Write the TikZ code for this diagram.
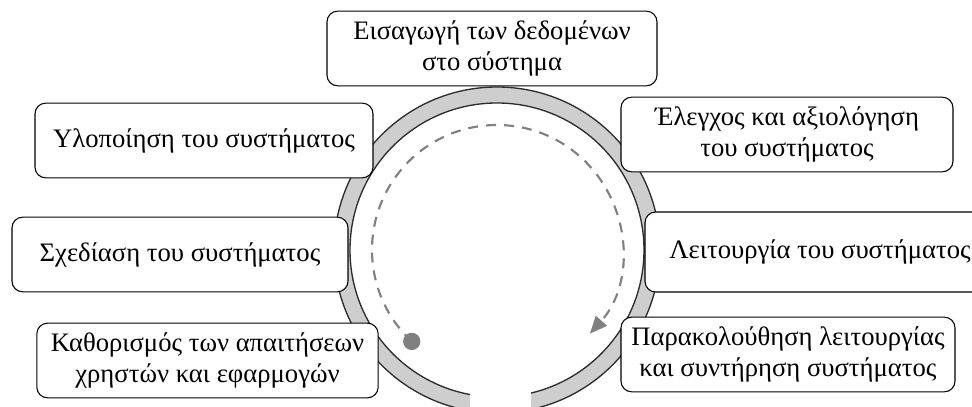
\documentclass[tikz,border=0pt]{standalone}
\usepackage{fontspec}
\setmainfont{Liberation Serif}
\usetikzlibrary{arrows.meta, positioning}
\definecolor{ringGray}{RGB}{206,206,206}
\definecolor{ringEdge}{RGB}{45,45,45}
\definecolor{pathGray}{RGB}{128,128,128}
\tikzset{
    stageBox/.style={draw=black, line width=0.8pt, fill=white, rounded corners=8pt,
        align=center, inner sep=0pt, minimum width=#1, minimum height=56pt,
        font=\fontsize{20}{23}\selectfont},
    ringLine/.style={ringEdge, line width=1pt},
    cycleArrow/.style={pathGray, line width=1.6pt, dash pattern=on 7.5pt off 6pt,
        -{Triangle[length=13pt, width=11pt]}},
    startDot/.style={circle, fill=pathGray, minimum size=13pt, inner sep=0pt},
}

\begin{document}
\begin{tikzpicture}[x=0.75pt, y=0.75pt]
    \useasboundingbox (0,0) rectangle (972,407);

    % Ring, open at the bottom
    \coordinate (hub) at (497,157);
    \begin{scope}
        \clip (0,0) rectangle (470,407) (531,0) rectangle (972,407)
              (470,200) rectangle (531,407);
        \fill[ringGray, even odd rule] (hub) circle[radius=163] (hub) circle[radius=147];
        \draw[ringLine] (hub) circle[radius=163] (hub) circle[radius=147];
    \end{scope}

    % Cycle
    \node[startDot] (start) at ([shift={(227:125)}]hub) {};
    \draw[cycleArrow] (start.center) arc[start angle=227, end angle=-42, radius=125];

    % Stages
    \node[stageBox=247.5pt] (input) at (492,358.5) {Εισαγωγή των δεδομένων\\στο σύστημα};
    \node[stageBox=253.5pt] (build) at (204,266.5) {Υλοποίηση του συστήματος};
    \node[stageBox=249pt] (test) at (787,272.5) {Έλεγχος και αξιολόγηση\\του συστήματος};
    \node[stageBox=252pt] (design) at (180,152.5) {Σχεδίαση του συστήματος};
    \node[stageBox=262.5pt, minimum height=60pt] (operate) at (820,155) {Λειτουργία του συστήματος};
    \node[stageBox=256pt] (needs) at (207.5,46.5) {Καθορισμός των απαιτήσεων\\χρηστών και εφαρμογών};
    \node[stageBox=250.5pt] (maintain) at (788,52.5) {Παρακολούθηση λειτουργίας\\και συντήρηση συστήματος};

\end{tikzpicture}
\end{document}
